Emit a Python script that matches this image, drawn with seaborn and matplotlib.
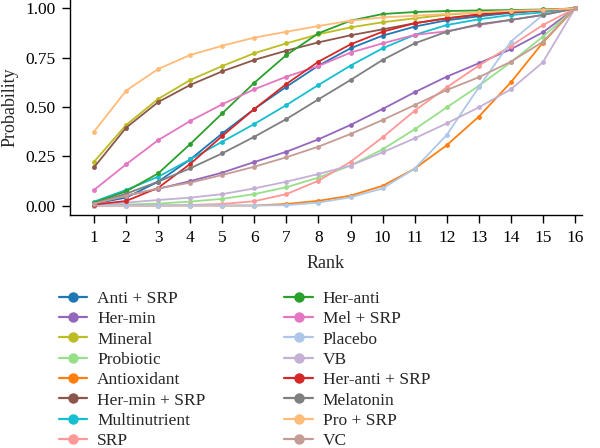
import numpy as np
import pandas as pd
import matplotlib
matplotlib.use("Agg")
import matplotlib.pyplot as plt
import seaborn as sns

ranks = list(range(1, 17))

anti_srp      = [0.010, 0.040, 0.121, 0.234, 0.366, 0.490, 0.603, 0.710, 0.798, 0.862, 0.908, 0.940, 0.960, 0.978, 0.990, 1.0]
her_min       = [0.010, 0.050, 0.085, 0.124, 0.167, 0.221, 0.273, 0.336, 0.409, 0.490, 0.575, 0.654, 0.722, 0.793, 0.879, 1.0]
mineral       = [0.222, 0.409, 0.541, 0.637, 0.708, 0.773, 0.823, 0.869, 0.904, 0.930, 0.950, 0.968, 0.980, 0.988, 0.993, 1.0]
probiotic     = [0.000, 0.005, 0.010, 0.020, 0.034, 0.058, 0.093, 0.142, 0.203, 0.285, 0.387, 0.498, 0.607, 0.727, 0.857, 1.0]
antioxidant   = [0.000, 0.000, 0.000, 0.000, 0.000, 0.000, 0.008, 0.024, 0.050, 0.100, 0.187, 0.306, 0.451, 0.625, 0.827, 1.0]
her_min_srp   = [0.194, 0.395, 0.525, 0.612, 0.681, 0.739, 0.786, 0.828, 0.864, 0.894, 0.925, 0.950, 0.968, 0.980, 0.990, 1.0]
multinutrient = [0.020, 0.079, 0.146, 0.234, 0.324, 0.414, 0.510, 0.612, 0.710, 0.798, 0.866, 0.916, 0.945, 0.967, 0.980, 1.0]
srp           = [0.000, 0.000, 0.000, 0.003, 0.008, 0.022, 0.058, 0.126, 0.222, 0.346, 0.481, 0.600, 0.710, 0.810, 0.916, 1.0]
her_anti      = [0.015, 0.072, 0.163, 0.312, 0.468, 0.623, 0.764, 0.874, 0.938, 0.972, 0.982, 0.987, 0.990, 0.992, 0.995, 1.0]
mel_srp       = [0.079, 0.209, 0.332, 0.429, 0.514, 0.590, 0.654, 0.708, 0.776, 0.823, 0.866, 0.884, 0.916, 0.942, 0.967, 1.0]
placebo       = [0.000, 0.000, 0.000, 0.000, 0.000, 0.000, 0.002, 0.015, 0.042, 0.087, 0.187, 0.358, 0.600, 0.832, 0.967, 1.0]
vb            = [0.005, 0.015, 0.028, 0.040, 0.058, 0.087, 0.121, 0.160, 0.203, 0.270, 0.341, 0.417, 0.498, 0.590, 0.727, 1.0]
her_anti_srp  = [0.005, 0.023, 0.090, 0.211, 0.353, 0.490, 0.617, 0.730, 0.818, 0.882, 0.925, 0.950, 0.970, 0.982, 0.992, 1.0]
melatonin     = [0.010, 0.060, 0.121, 0.189, 0.265, 0.349, 0.439, 0.539, 0.637, 0.739, 0.823, 0.882, 0.920, 0.942, 0.967, 1.0]
pro_srp       = [0.375, 0.583, 0.693, 0.764, 0.811, 0.852, 0.882, 0.911, 0.938, 0.955, 0.963, 0.972, 0.980, 0.988, 0.993, 1.0]
vc            = [0.010, 0.050, 0.087, 0.116, 0.155, 0.197, 0.245, 0.299, 0.363, 0.434, 0.510, 0.586, 0.651, 0.730, 0.831, 1.0]

labels = ["Anti + SRP", "Her-min", "Mineral", "Probiotic", "Antioxidant",
          "Her-min + SRP", "Multinutrient", "SRP", "Her-anti", "Mel + SRP",
          "Placebo", "VB", "Her-anti + SRP", "Melatonin", "Pro + SRP", "VC"]
series = [anti_srp, her_min, mineral, probiotic, antioxidant, her_min_srp,
          multinutrient, srp, her_anti, mel_srp, placebo, vb, her_anti_srp,
          melatonin, pro_srp, vc]
colors = ["#1f77b4", "#9467bd", "#bcbd22", "#98df8a", "#ff7f0e", "#8c564b",
          "#17becf", "#ff9896", "#2ca02c", "#e377c2", "#aec7e8", "#c5b0d5",
          "#d62728", "#7f7f7f", "#ffbb78", "#c49c94"]

df = pd.DataFrame({
    "Rank": np.tile(ranks, len(labels)),
    "Probability": np.concatenate(series),
    "Treatment": np.repeat(labels, len(ranks)),
})

sns.set_style("ticks")
plt.rcParams["font.family"] = ["Liberation Serif", "DejaVu Serif"]
FS = 12.5

fig = plt.figure(figsize=(6.0, 4.48), dpi=100)
ax = fig.add_axes([70 / 600, 1 - 215 / 448, 512 / 600, 215 / 448])

sns.lineplot(data=df, x="Rank", y="Probability", hue="Treatment",
             hue_order=labels, palette=dict(zip(labels, colors)),
             marker="o", markersize=3.5, markeredgewidth=0, linewidth=1.3,
             ax=ax, legend=True)

ax.set_xticks(ranks)
ax.set_yticks([0, 0.25, 0.5, 0.75, 1.0])
ax.set_yticklabels(["0.00", "0.25", "0.50", "0.75", "1.00"])
ax.set_xlim(0.25, 16.22)
ax.set_ylim(-0.048, 1.043)
ax.tick_params(labelsize=FS, length=5.5, width=1, color="black",
               labelcolor="black", pad=5)
for s in ["left", "bottom"]:
    ax.spines[s].set_color("black")
    ax.spines[s].set_linewidth(1.0)
sns.despine(ax=ax)
ax.set_xlabel("Rank", fontsize=13, labelpad=7)
ax.set_ylabel("Probability", fontsize=13, labelpad=5)

handles, labs = ax.get_legend_handles_labels()
ax.get_legend().remove()
for h in handles:
    h.set_markersize(7.5)
    h.set_linewidth(1.6)
fig.legend(handles, labs, loc="upper left", bbox_to_anchor=(0.098, 0.351),
           ncol=2, frameon=False, fontsize=FS, columnspacing=4.55,
           handlelength=1.65, labelspacing=0.24, handletextpad=0.55,
           borderaxespad=0, borderpad=0)

fig.savefig("out.png", dpi=100)
